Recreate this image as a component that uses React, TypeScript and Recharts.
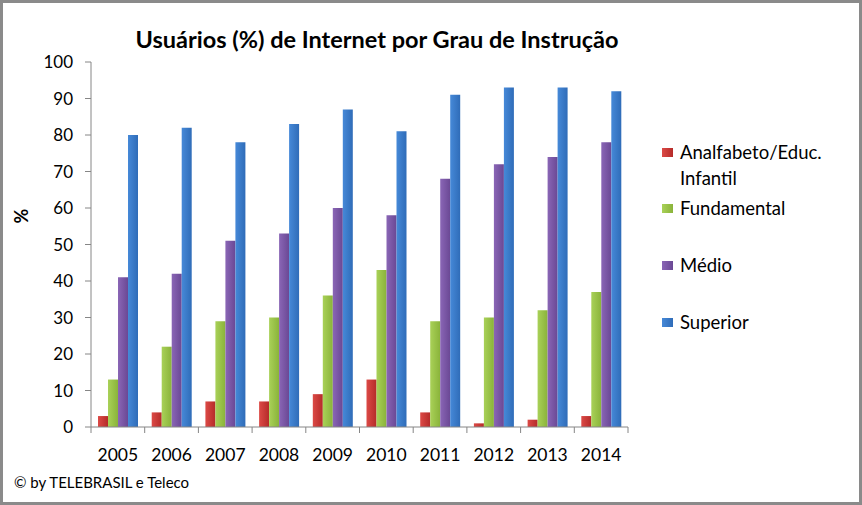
import React from 'react';
import { BarChart, Bar, XAxis, YAxis, Legend } from 'recharts';

const years = ['2005', '2006', '2007', '2008', '2009', '2010', '2011', '2012', '2013', '2014'];
const analfabeto = [3, 4, 7, 7, 9, 13, 4, 1, 2, 3];
const fundamental = [13, 22, 29, 30, 36, 43, 29, 30, 32, 37];
const medio = [41, 42, 51, 53, 60, 58, 68, 72, 74, 78];
const superior = [80, 82, 78, 83, 87, 81, 91, 93, 93, 92];
const yTicks = [0, 10, 20, 30, 40, 50, 60, 70, 80, 90, 100];

const series = [
  { key: 'analfabeto', name: 'Analfabeto/Educ. Infantil', color: '#cf3a36', light: '#dc4a46', dark: '#b52b29' },
  { key: 'fundamental', name: 'Fundamental', color: '#9cc54a', light: '#a9d158', dark: '#8ab33a' },
  { key: 'medio', name: 'Médio', color: '#7c58a8', light: '#8a66b6', dark: '#6a4894' },
  { key: 'superior', name: 'Superior', color: '#3b7dcd', light: '#4689d8', dark: '#2f6cb8' },
];

const data = years.map((y, i) => ({
  year: y,
  analfabeto: analfabeto[i],
  fundamental: fundamental[i],
  medio: medio[i],
  superior: superior[i],
}));

const FONT = 'Lato, "Open Sans", sans-serif';
const W = 862;
const H = 505;
const PLOT_LEFT = 91;
const PLOT_RIGHT = 628;
const BAND = (PLOT_RIGHT - PLOT_LEFT) / years.length;

function XTick(props: any) {
  const { x, y, payload, index } = props;
  const left = x - BAND / 2;
  return (
    <g>
      <line x1={left} y1={y - 8} x2={left} y2={y - 2} stroke="#868686" />
      {index === years.length - 1 && (
        <line x1={left + BAND} y1={y - 8} x2={left + BAND} y2={y - 2} stroke="#868686" />
      )}
      <text x={x} y={y + 26} textAnchor="middle" fontSize={17.5} fill="#000" fontFamily={FONT}>
        {payload.value}
      </text>
    </g>
  );
}

function LegendBox() {
  const rows = [
    { s: series[0], top: 139, lines: ['Analfabeto/Educ.', 'Infantil'] },
    { s: series[1], top: 195, lines: ['Fundamental'] },
    { s: series[2], top: 252, lines: ['Médio'] },
    { s: series[3], top: 309, lines: ['Superior'] },
  ];
  return (
    <div style={{ position: 'absolute', left: 0, top: 0 }}>
      {rows.map((r) => (
        <div key={r.s.key} style={{ position: 'absolute', left: 662, top: r.top, width: 195 }}>
          <div
            style={{
              position: 'absolute', left: 0, top: 9, width: 11, height: 9,
              background: `linear-gradient(to right, ${r.s.light}, ${r.s.dark})`,
            }}
          />
          <div style={{ position: 'absolute', left: 18, top: 0, fontSize: 18.5, lineHeight: '26px', color: '#000', fontFamily: FONT, whiteSpace: 'nowrap' }}>
            {r.lines.map((l) => (
              <div key={l}>{l}</div>
            ))}
          </div>
        </div>
      ))}
    </div>
  );
}

export default function App() {
  return (
    <div style={{ position: 'absolute', left: 0, top: 0, width: W, height: H, background: '#fff', fontFamily: FONT }}>
      <BarChart
        width={W}
        height={H}
        data={data}
        margin={{ top: 62, right: W - PLOT_RIGHT, bottom: 48, left: 0 }}
        barCategoryGap={7}
        barGap={0}
      >
        <defs>
          {series.map((s) => (
            <linearGradient key={s.key} id={`g-${s.key}`} x1="0" y1="0" x2="1" y2="0">
              <stop offset="0%" stopColor={s.light} />
              <stop offset="100%" stopColor={s.dark} />
            </linearGradient>
          ))}
        </defs>
        <XAxis
          dataKey="year"
          height={30}
          stroke="#868686"
          tickLine={false}
          tick={<XTick />}
          interval={0}
        />
        <YAxis
          width={PLOT_LEFT}
          domain={[0, 100]}
          ticks={yTicks}
          interval={0}
          stroke="#868686"
          tickSize={6}
          tick={{ fill: '#000', fontSize: 17, fontFamily: FONT }}
          tickMargin={12}
        />
        <Legend content={() => null} />
        {series.map((s) => (
          <Bar key={s.key} dataKey={s.key} name={s.name} fill={`url(#g-${s.key})`} isAnimationActive={false} />
        ))}
      </BarChart>
      <div style={{ position: 'absolute', left: 0, width: 754, top: 25, textAlign: 'center', fontSize: 23.5, fontWeight: 700, color: '#000' }}>
        Usuários (%) de Internet por Grau de Instrução
      </div>
      <div style={{ position: 'absolute', left: 14, top: 205, fontSize: 18, fontWeight: 700, transform: 'rotate(-90deg)', transformOrigin: 'center' }}>
        %
      </div>
      <LegendBox />
      <div style={{ position: 'absolute', left: 14, top: 473, fontSize: 15, color: '#000' }}>
        © by TELEBRASIL e Teleco
      </div>
      <div style={{ position: 'absolute', left: 0, top: 0, width: W, height: H, boxSizing: 'border-box', border: '3px solid #8a8a8a', pointerEvents: 'none' }} />
    </div>
  );
}
